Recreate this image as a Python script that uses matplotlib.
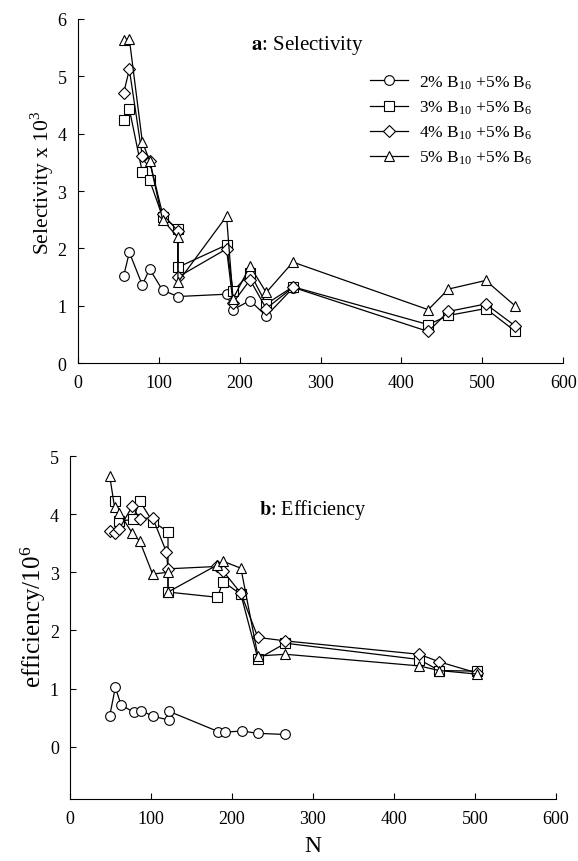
import matplotlib.pyplot as plt

plt.rcParams['font.family'] = ['Liberation Serif', 'DejaVu Serif']
plt.rcParams['mathtext.fontset'] = 'stix'

# panel a: selectivity x 10^3
sel_N = [57, 64, 80, 89, 105, 124, 124, 184, 192, 213, 233, 266, 433, 458, 504, 540]
sel_N_2 = [57, 64, 80, 89, 105, 124, 184, 192, 213, 233, 266]
sel_2 = [1.52, 1.93, 1.36, 1.64, 1.27, 1.16, 1.20, 0.93, 1.09, 0.82, 1.31]
sel_3 = [4.24, 4.43, 3.33, 3.19, 2.55, 2.34, 1.67, 2.06, 1.25, 1.57, 1.03, 1.33, 0.67, 0.83, 0.95, 0.56]
sel_4 = [4.71, 5.12, 3.61, 3.53, 2.60, 2.30, 1.50, 1.99, 1.05, 1.45, 0.95, 1.32, 0.55, 0.90, 1.03, 0.65]
sel_5 = [5.64, 5.65, 3.86, 3.53, 2.50, 2.19, 1.41, 2.56, 1.12, 1.69, 1.23, 1.76, 0.93, 1.29, 1.44, 1.00]

# panel b: efficiency / 10^6
eff_N_2 = [49, 56, 63, 79, 88, 103, 122, 122, 183, 191, 212, 232, 266]
eff_2 = [0.53, 1.02, 0.72, 0.59, 0.62, 0.52, 0.46, 0.61, 0.26, 0.25, 0.27, 0.23, 0.21]
eff_N_3 = [55, 61, 78, 86, 102, 121, 121, 182, 189, 211, 232, 266, 431, 456, 502]
eff_3 = [4.23, 3.88, 3.91, 4.23, 3.87, 3.70, 2.66, 2.57, 2.84, 2.62, 1.51, 1.78, 1.50, 1.31, 1.30]
eff_N_4 = [49, 55, 61, 77, 86, 102, 119, 121, 181, 189, 211, 232, 266, 431, 456, 502]
eff_4 = [3.71, 3.68, 3.75, 4.14, 3.92, 3.94, 3.35, 3.06, 3.10, 3.02, 2.64, 1.88, 1.82, 1.59, 1.46, 1.27]
eff_N_5 = [49, 55, 61, 77, 86, 102, 121, 121, 181, 189, 211, 232, 266, 431, 456, 502]
eff_5 = [4.66, 4.12, 4.02, 3.67, 3.54, 2.97, 3.00, 2.66, 3.12, 3.19, 3.07, 1.56, 1.59, 1.39, 1.31, 1.25]

labels = [r'2% B$_{\mathregular{10}}$ +5% B$_{\mathregular{6}}$',
          r'3% B$_{\mathregular{10}}$ +5% B$_{\mathregular{6}}$',
          r'4% B$_{\mathregular{10}}$ +5% B$_{\mathregular{6}}$',
          r'5% B$_{\mathregular{10}}$ +5% B$_{\mathregular{6}}$']
markers = ['o', 's', 'D', '^']
msizes = [7, 6.5, 6, 7.5]

fig = plt.figure(figsize=(5.78, 8.62), dpi=100)
ax1 = fig.add_axes([0.1341, 0.5777, 0.8408, 0.3991])
ax2 = fig.add_axes([0.1211, 0.0719, 0.8408, 0.3979])

top = [(sel_N_2, sel_2), (sel_N, sel_3), (sel_N, sel_4), (sel_N, sel_5)]
bottom = [(eff_N_2, eff_2), (eff_N_3, eff_3), (eff_N_4, eff_4), (eff_N_5, eff_5)]

for i, ((x, y), lab) in enumerate(zip(top, labels)):
    ax1.plot(x, y, color='black', lw=0.9, marker=markers[i], ms=msizes[i],
             mfc='white', mec='black', mew=0.8, label=lab, zorder=2 + i)
for i, (x, y) in enumerate(bottom):
    ax2.plot(x, y, color='black', lw=0.9, marker=markers[i], ms=msizes[i],
             mfc='white', mec='black', mew=0.8, zorder=2 + i)

for ax in (ax1, ax2):
    ax.spines['top'].set_visible(False)
    ax.spines['right'].set_visible(False)
    for s in ('left', 'bottom'):
        ax.spines[s].set_linewidth(0.8)
    ax.set_xlim(0, 600)
    ax.set_xticks(range(0, 601, 100))
    ax.tick_params(direction='in', length=4, width=0.8, labelsize=13, pad=8)

ax1.set_ylim(0, 6)
ax1.set_yticks(range(0, 7))
fig.text(0.0727, 0.788, r'Selectivity x 10$^{\mathregular{3}}$', fontsize=15.5,
         rotation=90, ha='center', va='center')
ax1.text(0.472, 0.927, r'$\mathbf{a}$: Selectivity', transform=ax1.transAxes,
         ha='center', va='center', fontsize=15)
ax1.legend(loc='upper left', bbox_to_anchor=(0.588, 0.862), frameon=False,
           fontsize=12.5, handlelength=2.2, handletextpad=0.6,
           labelspacing=0.45, borderaxespad=0)

ax2.set_ylim(-0.9, 5)
ax2.set_yticks(range(0, 6))
fig.text(0.057, 0.284, r'efficiency/10$^{\mathregular{6}}$', fontsize=18,
         rotation=90, ha='center', va='center')
ax2.set_xlabel('N', fontsize=17, labelpad=6)
ax2.text(0.5, 0.845, r'$\mathbf{b}$: Efficiency', transform=ax2.transAxes,
         ha='center', va='center', fontsize=14.5)

fig.savefig('out.png', dpi=100)
